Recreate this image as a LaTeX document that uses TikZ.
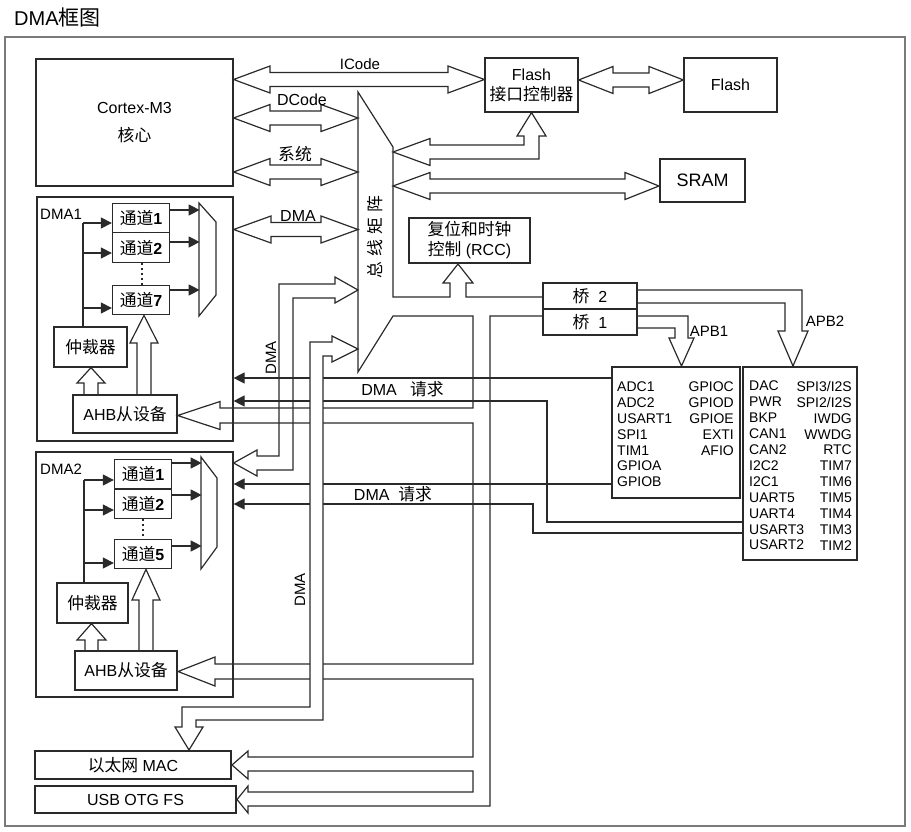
\documentclass[tikz,border=0pt]{standalone}
\usepackage{fontspec}
\setmainfont{Liberation Sans}
\newfontfamily\cjk{Noto Sans CJK SC}[Scale=1.05]
\newcommand{\zh}[1]{{\cjk #1}}
\usetikzlibrary{arrows.meta}
\definecolor{linegray}{HTML}{2A2A2A}
\definecolor{framegray}{HTML}{7A7A7A}

\begin{document}
\begin{tikzpicture}[
    x=1pt, y=-1pt,
    every node/.style={
        font=\fontsize{16}{19}\selectfont,
        align=center,
        inner sep=0pt
    },
    block/.style={
        draw=linegray,
        line width=1.2pt
    },
    heavyblock/.style={
        draw=linegray,
        line width=2pt
    },
    channel/.style={
        draw=linegray,
        line width=1.3pt,
        minimum width=57pt,
        minimum height=29.5pt
    },
    periph/.style={
        font=\fontsize{14}{15.8}\selectfont,
        align=left
    },
    smalllabel/.style={
        font=\fontsize{15}{17}\selectfont
    },
    wire/.style={
        draw=linegray,
        line width=1.2pt
    },
    ctrlarrow/.style={
        wire,
        -{Triangle[length=11pt,width=11pt]}
    },
    bus/.style={
        draw=linegray,
        line width=1.2pt
    },
    busover/.style={
        bus,
        fill=white
    },
    frame/.style={
        draw=framegray,
        line width=1.2pt
    }
]

\useasboundingbox (0,0) rectangle (911,832);

\node[anchor=west, font=\fontsize{20}{22}\selectfont] (title) at (14,18) {DMA\zh{框图}};

\draw[frame] (5,37) rectangle (905,826);

% core, memories, bridges
\node[block, minimum width=197pt, minimum height=127pt] (cortex) at (134.5,122.5) {
    Cortex-M3\\[9pt]\zh{核心}
};

\node[block, minimum width=93pt, minimum height=54pt] (flashctl) at (531.5,85) {
    Flash\\[1pt]\zh{接口控制器}
};

\node[block, minimum width=93pt, minimum height=54pt] (flash) at (730.5,85) {Flash};

\node[heavyblock, minimum width=85pt, minimum height=43pt,
    font=\fontsize{18}{20}\selectfont] (sram) at (702.5,180.5) {SRAM};

\node[heavyblock, minimum width=121pt, minimum height=45pt] (rcc) at (469.5,240.5) {
    \zh{复位和时钟}\\[1pt]\zh{控制} (RCC)
};

\node[block, minimum width=94pt, minimum height=26pt] (bridgetwo) at (590,296) {\zh{桥}\ \ 2};
\node[block, minimum width=94pt, minimum height=26pt] (bridgeone) at (590,322) {\zh{桥}\ \ 1};

\node[heavyblock, minimum width=128pt, minimum height=131pt] (apbone) at (676,432.5) {};
\node[heavyblock, minimum width=114pt, minimum height=193pt] (apbtwo) at (800,463.5) {};

\node[periph, anchor=north west] (apboneleft) at (617,382) {
    ADC1\\ADC2\\USART1\\SPI1\\TIM1\\GPIOA\\GPIOB
};
\node[periph, align=right, anchor=north east] (apboneright) at (734,382) {
    GPIOC\\GPIOD\\GPIOE\\EXTI\\AFIO
};
\node[periph, font=\fontsize{14}{15.9}\selectfont, anchor=north west] (apbtwoleft) at (749,381) {
    DAC\\PWR\\BKP\\CAN1\\CAN2\\I2C2\\I2C1\\UART5\\UART4\\USART3\\USART2
};
\node[periph, font=\fontsize{14}{15.9}\selectfont, align=right, anchor=north east] (apbtworight) at (852,381) {
    SPI3/I2S\\SPI2/I2S\\IWDG\\WWDG\\RTC\\TIM7\\TIM6\\TIM5\\TIM4\\TIM3\\TIM2
};

\node[heavyblock, minimum width=196pt, minimum height=28pt] (mac) at (133,765) {\zh{以太网} MAC};
\node[heavyblock, minimum width=201pt, minimum height=27pt] (usb) at (135.5,799.5) {USB OTG FS};

% DMA1
\node[block, minimum width=196pt, minimum height=244pt] (dmaone) at (135,319) {};
\node[smalllabel, anchor=west] (dmaonelabel) at (40,214) {DMA1};

\node[channel] (chaone) at (141,218) {\zh{通道}\textbf{1}};
\node[channel] (chatwo) at (141,247.5) {\zh{通道}\textbf{2}};
\node[channel] (chaseven) at (141,300) {\zh{通道}\textbf{7}};

\node[block, minimum width=73pt, minimum height=40pt] (arbone) at (90.5,347) {\zh{仲裁器}};
\node[block, minimum width=104pt, minimum height=38pt] (ahbone) at (125,414) {AHB\zh{从设备}};

\draw[block] (199,203) -- (216,222) -- (216,295) -- (199,316) -- cycle;

\draw[ctrlarrow] ([yshift=8pt]chaone.east) -- ++(29.5,0);
\draw[ctrlarrow] ([yshift=5.5pt]chatwo.east) -- ++(29.5,0);
\draw[ctrlarrow] ([yshift=10pt]chaseven.east) -- ++(29.5,0);

\draw[wire] (arbone.north -| 83,0) -- (83,223);
\draw[ctrlarrow] (83,223) -- (chaone.west |- 0,223);
\draw[ctrlarrow] (83,253) -- (chatwo.west |- 0,253);
\draw[ctrlarrow] (83,308) -- (chaseven.west |- 0,308);

\draw[wire, dash pattern=on 2pt off 3pt] (chatwo.south -| 142,0) -- (chaseven.north -| 142,0);

\draw[bus] (ahbone.north -| 84,0) -- (84,383) -- (77,383) -- (arbone.south -| 91,0)
    -- (105,383) -- (98,383) -- (ahbone.north -| 98,0);
\draw[bus] (ahbone.north -| 137,0) -- (137,343) -- (130,343) -- (chaseven.south -| 144,0)
    -- (158,343) -- (151,343) -- (ahbone.north -| 151,0);

% DMA2
\node[block, minimum width=197pt, minimum height=245pt] (dmatwo) at (134.5,574.5) {};
\node[smalllabel, anchor=west] (dmatwolabel) at (40,469) {DMA2};

\node[channel] (chbone) at (143,474) {\zh{通道}\textbf{1}};
\node[channel] (chbtwo) at (143,504) {\zh{通道}\textbf{2}};
\node[channel] (chbfive) at (143,554) {\zh{通道}\textbf{5}};

\node[block, minimum width=71pt, minimum height=40pt] (arbtwo) at (92.5,603) {\zh{仲裁器}};
\node[heavyblock, minimum width=102pt, minimum height=39pt] (ahbtwo) at (126,670.5) {AHB\zh{从设备}};

\draw[block] (201,457) -- (217,478) -- (217,547) -- (201,569) -- cycle;

\draw[ctrlarrow] ([yshift=11pt]chbone.east) -- ++(29.5,0);
\draw[ctrlarrow] ([yshift=9pt]chbtwo.east) -- ++(29.5,0);
\draw[ctrlarrow] ([yshift=8pt]chbfive.east) -- ++(29.5,0);

\draw[wire] (arbtwo.north -| 84,0) -- (84,480);
\draw[ctrlarrow] (84,480) -- (chbone.west |- 0,480);
\draw[ctrlarrow] (84,510) -- (chbtwo.west |- 0,510);
\draw[ctrlarrow] (84,563) -- (chbfive.west |- 0,563);

\draw[wire, dash pattern=on 2pt off 3pt] (chbtwo.south -| 143,0) -- (chbfive.north -| 143,0);

\draw[bus] (ahbtwo.north -| 85,0) -- (85,640) -- (77,640) -- (arbtwo.south -| 91.5,0)
    -- (106,640) -- (98,640) -- (ahbtwo.north -| 98,0);
\draw[bus] (ahbtwo.north -| 139,0) -- (139,600) -- (132,600) -- (chbfive.south -| 146,0)
    -- (160,600) -- (153,600) -- (ahbtwo.north -| 153,0);

% core buses
\draw[bus] (cortex.east |- 0,79.5) -- (270,66) -- (270,72.5) -- (448,72.5) -- (448,66)
    -- (flashctl.west |- 0,79.5) -- (448,93) -- (448,86.5) -- (270,86.5) -- (270,93) -- cycle;
\node[smalllabel] (icodelabel) at (360,64) {ICode};

\draw[bus] (flashctl.east |- 0,80) -- (613,66.5) -- (613,73) -- (649,73) -- (649,66.5)
    -- (flash.west |- 0,80) -- (649,93.5) -- (649,87) -- (613,87) -- (613,93.5) -- cycle;

\draw[bus] (cortex.east |- 0,118) -- (270,104.5) -- (270,111) -- (321,111) -- (321,104.5)
    -- (358,118) -- (321,131.5) -- (321,125) -- (270,125) -- (270,131.5) -- cycle;
\node (dcodelabel) at (302,100) {DCode};

\draw[bus] (cortex.east |- 0,172) -- (270,158.5) -- (270,165) -- (321,165) -- (321,158.5)
    -- (358,172) -- (321,185.5) -- (321,179) -- (270,179) -- (270,185.5) -- cycle;
\node (syslabel) at (295,154) {\zh{系统}};

\draw[bus] (dmaone.east |- 0,229.5) -- (271,216) -- (271,222.5) -- (321,222.5) -- (321,216)
    -- (358,229.5) -- (321,243) -- (321,236.5) -- (271,236.5) -- (271,243) -- cycle;
\node (dmalinklabel) at (298,216) {DMA};

\draw[bus] (393,152) -- (430,138.5) -- (430,145) -- (524,145) -- (524,136) -- (517,136)
    -- (flashctl.south) -- (546,136) -- (539,136) -- (539,159) -- (430,159) -- (430,165.5) -- cycle;

\draw[bus] (393,186) -- (430,172.5) -- (430,179) -- (625,179) -- (625,172.5)
    -- (sram.west |- 0,186) -- (625,199.5) -- (625,193) -- (430,193) -- (430,199.5) -- cycle;

% DMA requests
\draw[ctrlarrow] (apbone.west |- 0,378) -- (dmaone.east |- 0,378);
\draw[ctrlarrow] (apbtwo.west |- 0,522) -- (547,522) -- (547,401) -- (dmaone.east |- 0,401);
\draw[ctrlarrow] (apbone.west |- 0,484) -- (dmatwo.east |- 0,484);
\draw[ctrlarrow] (apbtwo.west |- 0,533) -- (533,533) -- (533,504) -- (dmatwo.east |- 0,504);

\node (reqonelabel) at (402.5,389) {DMA\ \ \ \zh{请求}};
\node (reqtwolabel) at (393,494) {DMA\ \ \zh{请求}};

% bus matrix and AHB branches
\draw[bus]
    (bridgeone.west |- 0,316) -- (490,316) -- (490,806) -- (248,806) -- (248,813)
    -- (usb.east) -- (248,786) -- (248,792) -- (473,792) -- (473,771)
    -- (248,771) -- (248,779) -- (mac.east) -- (248,751) -- (248,757)
    -- (473,757) -- (473,679) -- (215,679) -- (215,686) -- (ahbtwo.east |- 0,671.5)
    -- (215,657) -- (215,664) -- (473,664) -- (473,423) -- (220,423) -- (220,429.5)
    -- (ahbone.east |- 0,415.5) -- (220,401.5) -- (220,408) -- (473,408) -- (473,316)
    -- (393,316) -- (358,372) -- (358,92) -- (393,147) -- (393,297) -- (450,297)
    -- (450,283) -- (443,283) -- (rcc.south -| 458,0) -- (473,283) -- (466,283) -- (466,297)
    -- (bridgetwo.west |- 0,297);
\node[rotate=90] (matrixlabel) at (375,237) {\zh{总\hspace{5pt}线\hspace{5pt}矩\hspace{5pt}阵}};

\draw[bus] (358,290) -- (335,277) -- (335,284) -- (279,284) -- (279,456) -- (257,456)
    -- (257,450) -- (dmatwo.east |- 0,463) -- (257,476) -- (257,470) -- (293,470)
    -- (293,298) -- (335,298) -- (335,303) -- cycle;
\node[smalllabel, rotate=90] (busalabel) at (271,358) {DMA};

\draw[busover] (358,349) -- (332,336) -- (332,342) -- (310,342) -- (310,707) -- (182,707)
    -- (182,727) -- (175,727) -- (mac.north -| 189,0) -- (203,727) -- (196,727)
    -- (196,720) -- (323,720) -- (323,356) -- (332,356) -- (332,362) -- cycle;
\node[smalllabel, rotate=90] (busblabel) at (300,590) {DMA};

% APB buses
\draw[bus] (bridgetwo.east |- 0,290) -- (802,290) -- (802,331) -- (808,331)
    -- (apbtwo.north -| 793,0) -- (778,331) -- (785,331) -- (785,303) -- (bridgetwo.east |- 0,303);
\node[smalllabel] (apbtwolabel) at (825,321) {APB2};

\draw[bus] (bridgeone.east |- 0,316) -- (688,316) -- (688,338) -- (694,338)
    -- (apbone.north -| 681.5,0) -- (669,338) -- (675,338) -- (675,328) -- (bridgeone.east |- 0,328);
\node[smalllabel] (apbonelabel) at (709,331) {APB1};

\end{tikzpicture}
\end{document}
